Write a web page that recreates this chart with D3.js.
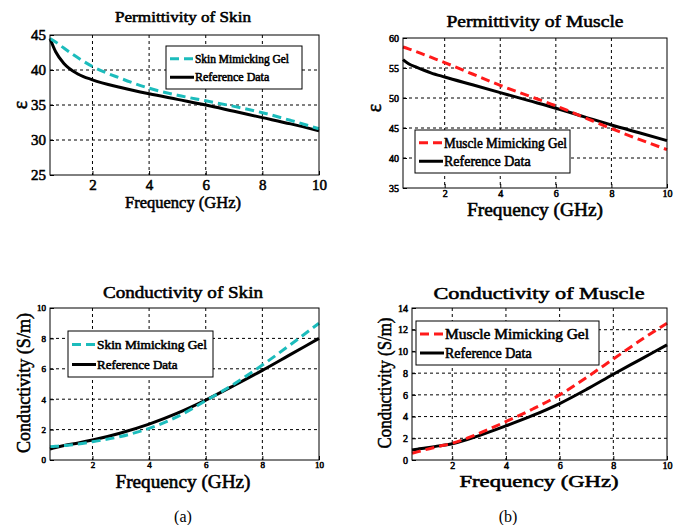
<!DOCTYPE html>
<html>
<head>
<meta charset="utf-8">
<script src="https://d3js.org/d3.v7.min.js"></script>
<style>
  body { margin: 0; background: #fff; }
  svg text { font-family: "Liberation Serif", "Times New Roman", serif; }
  .b { font-weight: normal; stroke: #000; stroke-width: 0.55px; paint-order: stroke; }
</style>
</head>
<body>
<svg id="fig" width="682" height="525"></svg>
<script>
// frequency samples (GHz)
var freq = [0.5, 0.7, 1, 1.5, 2, 3, 4, 5, 6, 7, 8, 9, 10];

// permittivity of skin
var skinPermGel = [44.5, 44.0, 43.1, 41.7, 40.5, 38.8, 37.4, 36.4, 35.6, 34.8, 33.9, 32.8, 31.6];
var skinPermRef = [44.5, 42.6, 40.9, 39.4, 38.6, 37.5, 36.6, 35.8, 35.0, 34.1, 33.2, 32.3, 31.3];
// permittivity of muscle
var musclePermGel = [58.5, 58.2, 57.7, 56.8, 55.9, 54.0, 52.1, 50.4, 48.7, 46.8, 44.9, 43.1, 41.4];
var musclePermRef = [56.4, 55.7, 55.1, 54.2, 53.5, 52.2, 50.9, 49.6, 48.3, 46.9, 45.5, 44.2, 42.9];
// conductivity of skin
var skinCondGel = [0.88, 0.9, 0.95, 1.05, 1.2, 1.55, 2.08, 2.85, 3.9, 5.0, 6.25, 7.6, 9.0];
var skinCondRef = [0.72, 0.82, 0.95, 1.12, 1.31, 1.78, 2.36, 3.08, 3.94, 4.9, 5.9, 6.95, 8.0];
// conductivity of muscle
var muscleCondGel = [0.62, 0.75, 0.95, 1.25, 1.54, 2.45, 3.54, 4.7, 6.0, 7.6, 9.3, 11.0, 12.6];
var muscleCondRef = [0.92, 1.0, 1.1, 1.3, 1.5, 2.25, 3.14, 4.1, 5.2, 6.5, 7.9, 9.25, 10.6];

var xTicks = [2, 4, 6, 8, 10];

var panels = [
  { title: "Permittivity of Skin", ylab: "\u03b5", gel: skinPermGel, ref: skinPermRef,
    gelName: "Skin Mimicking Gel", gelColor: "#1cbcbc",
    box: [50, 35, 319, 175], ydom: [25, 45], yticks: [25, 30, 35, 40, 45], tick: 15,
    tt: [183, 22, 136, 15], xl: [183, 208, 116, 17], yl: [20, 105, 0, 20],
    leg: [166, 46, 302, 89, 12, 94] },
  { title: "Permittivity of Muscle", ylab: "\u03b5", gel: musclePermGel, ref: musclePermRef,
    gelName: "Muscle Mimicking Gel", gelColor: "#ff1a1a",
    box: [403, 38, 667, 188], ydom: [35, 60], yticks: [35, 40, 45, 50, 55, 60], tick: 10,
    tt: [535, 27, 177, 17], xl: [535, 216, 136, 18], yl: [374, 108, 0, 20],
    leg: [415, 130, 570, 173, 14, 123] },
  { title: "Conductivity of Skin", ylab: "Conductivity (S/m)", gel: skinCondGel, ref: skinCondRef,
    gelName: "Skin Mimicking Gel", gelColor: "#1cbcbc",
    box: [50, 308, 319, 460], ydom: [0, 10], yticks: [0, 2, 4, 6, 8, 10], tick: 9,
    tt: [183, 298, 160, 17], xl: [183, 488, 135, 18], yl: [23, 383, 140, 19],
    leg: [68, 331, 213, 377, 13, 110] },
  { title: "Conductivity of Muscle", ylab: "Conductivity (S/m)", gel: muscleCondGel, ref: muscleCondRef,
    gelName: "Muscle Mimicking Gel", gelColor: "#ff1a1a",
    box: [412, 308, 667, 460], ydom: [0, 14], yticks: [0, 2, 4, 6, 8, 10, 12, 14], tick: 10,
    tt: [539, 299, 211, 17], xl: [539, 487, 159, 17], yl: [384, 383, 131, 19],
    leg: [416, 321, 599, 365, 14, 144] }
];

var svg = d3.select("#fig");

panels.forEach(function(p) {
  var b = p.box;
  var x = d3.scaleLinear().domain([0.5, 10]).range([b[0], b[2]]);
  var y = d3.scaleLinear().domain(p.ydom).range([b[3], b[1]]);
  var g = svg.append("g");

  // grid
  g.selectAll(".gx").data(xTicks.filter(function(t) { return t < 10; })).enter().append("line")
    .attr("x1", function(d) { return x(d); }).attr("x2", function(d) { return x(d); })
    .attr("y1", b[1]).attr("y2", b[3])
    .attr("stroke", "#000").attr("stroke-width", 1).attr("stroke-dasharray", "3,3");
  g.selectAll(".gy").data(p.yticks.slice(1, -1)).enter().append("line")
    .attr("y1", function(d) { return y(d); }).attr("y2", function(d) { return y(d); })
    .attr("x1", b[0]).attr("x2", b[2])
    .attr("stroke", "#000").attr("stroke-width", 1).attr("stroke-dasharray", "3,3");

  // axes
  var ax = g.append("g").attr("transform", "translate(0," + b[3] + ")")
    .call(d3.axisBottom(x).tickValues(xTicks).tickSize(-4).tickPadding(p.tick > 12 ? 4 : 2));
  var ay = g.append("g").attr("transform", "translate(" + b[0] + ",0)")
    .call(d3.axisLeft(y).tickValues(p.yticks).tickSize(-4).tickPadding(4));
  [ax, ay].forEach(function(a) {
    a.select(".domain").remove();
    a.attr("font-family", null);
    a.selectAll("text").attr("class", "b").attr("font-size", p.tick).attr("fill", "#000");
  });

  // series
  var line = d3.line().x(function(d) { return x(d[0]); }).y(function(d) { return y(d[1]); })
    .curve(d3.curveMonotoneX);
  g.append("path").datum(d3.zip(freq, p.ref)).attr("d", line)
    .attr("fill", "none").attr("stroke", "#000").attr("stroke-width", 3);
  g.append("path").datum(d3.zip(freq, p.gel)).attr("d", line)
    .attr("fill", "none").attr("stroke", p.gelColor).attr("stroke-width", 3)
    .attr("stroke-dasharray", "9,5");

  // frame
  g.append("rect").attr("x", b[0]).attr("y", b[1])
    .attr("width", b[2] - b[0]).attr("height", b[3] - b[1])
    .attr("fill", "none").attr("stroke", "#000").attr("stroke-width", 1);

  // legend
  var L = p.leg;
  g.append("rect").attr("x", L[0]).attr("y", L[1]).attr("width", L[2] - L[0]).attr("height", L[3] - L[1])
    .attr("fill", "#fff").attr("stroke", "#000").attr("stroke-width", 1);
  var rowH = (L[3] - L[1]) / 2;
  var items = [[p.gelName, p.gelColor, "9,5"], ["Reference Data", "#000", null]];
  items.forEach(function(it, i) {
    var cy = L[1] + rowH * (i + 0.5) + (i === 0 ? 2 : -1);
    g.append("line").attr("x1", L[0] + 4).attr("x2", L[0] + 28).attr("y1", cy).attr("y2", cy)
      .attr("stroke", it[1]).attr("stroke-width", 3).attr("stroke-dasharray", it[2]);
    var t = g.append("text").attr("class", "b").attr("x", L[0] + 29).attr("y", cy + L[4] * 0.35)
      .attr("font-size", L[4]).text(it[0]);
    if (i === 0) t.attr("textLength", L[5]).attr("lengthAdjust", "spacingAndGlyphs");
  });

  // title and labels
  g.append("text").attr("class", "b").attr("x", p.tt[0]).attr("y", p.tt[1]).attr("text-anchor", "middle")
    .attr("font-size", p.tt[3])
    .attr("textLength", p.tt[2]).attr("lengthAdjust", "spacingAndGlyphs").text(p.title);
  g.append("text").attr("class", "b").attr("x", p.xl[0]).attr("y", p.xl[1]).attr("text-anchor", "middle")
    .attr("font-size", p.xl[3])
    .attr("textLength", p.xl[2]).attr("lengthAdjust", "spacingAndGlyphs").text("Frequency (GHz)");
  var yt = g.append("text").attr("class", "b")
    .attr("transform", "translate(" + p.yl[0] + "," + p.yl[1] + ") rotate(-90)")
    .attr("text-anchor", "middle").attr("dy", "0.35em")
    .attr("font-size", p.yl[3]).text(p.ylab);
  if (p.yl[2]) yt.attr("textLength", p.yl[2]).attr("lengthAdjust", "spacingAndGlyphs");
});

// sub-figure captions
svg.append("text").attr("x", 183).attr("y", 522).attr("text-anchor", "middle")
  .attr("font-size", 16).text("(a)");
svg.append("text").attr("x", 508).attr("y", 522).attr("text-anchor", "middle")
  .attr("font-size", 16).text("(b)");
</script>
</body>
</html>
